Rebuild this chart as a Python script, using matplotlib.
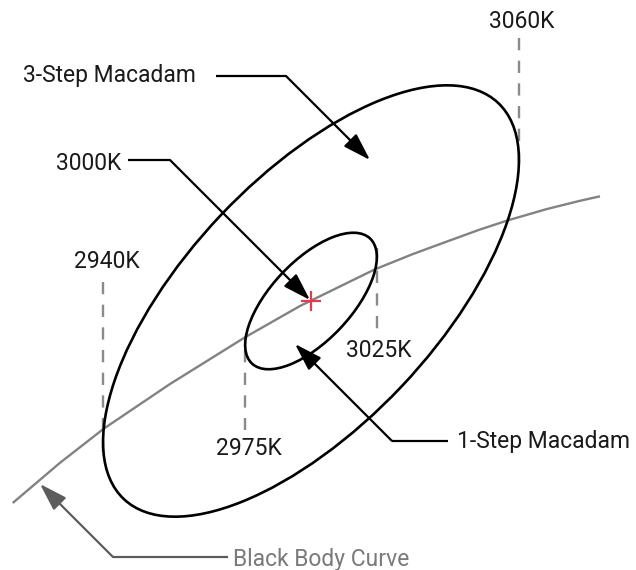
import numpy as np
import matplotlib
matplotlib.use("Agg")
import matplotlib.pyplot as plt
from matplotlib.patches import Ellipse

plt.rcParams['font.family'] = ['Roboto', 'DejaVu Sans']

## canvas is laid out in pixel units (636 x 570, y going down)
W, H = 636, 570

## black body curve
bb_x = [12.7, 60, 104, 170, 245, 300, 375, 413, 447, 480, 508, 547, 580, 600]
bb_y = [503, 462.8, 428.5, 384, 337.3, 306, 269.3, 254, 241.5, 229.5, 220.3, 209, 200.8, 196.3]

## macadam ellipses: shared centre (the 3000K point)
center = (311, 301)
ellipse_steps = [1, 3]
ellipse_width = [172, 545]
ellipse_height = [80, 249]
ellipse_angle = -46.6

## dashed temperature markers
temp_labels = ["2940K", "2975K", "3025K", "3060K"]
temp_x = [103, 245, 377, 519]
temp_y0 = [282, 350, 248, 38]
temp_y1 = [452, 430, 329, 163]
label_x = [107, 248.5, 379, 521.5]
label_y = [268, 455, 357, 28]

## callouts: label, text anchor, line level, line start, arrow tip
callouts = [
    dict(text="3-Step Macadam", tx=23, ty=82, ha="left", level=76, start=216, tip=(370, 160), color="black"),
    dict(text="3000K", tx=121, ty=170, ha="right", level=160, start=128, tip=(310, 300), color="black"),
    dict(text="1-Step Macadam", tx=456.7, ty=448, ha="left", level=440.7, start=448, tip=(295, 344), color="black"),
    dict(text="Black Body Curve", tx=233, ty=566, ha="left", level=557, start=228, tip=(40, 484), color="#5c5c5c"),
]

fig = plt.figure(figsize=(W / 100, H / 100), dpi=100)
ax = fig.add_axes([0, 0, 1, 1])
ax.set_xlim(0, W)
ax.set_ylim(H, 0)
ax.axis("off")

FS = 16.5

## dashed temperature lines + labels
for lab, x, y0, y1, lx, ly in zip(temp_labels, temp_x, temp_y0, temp_y1, label_x, label_y):
    ax.plot([x, x], [y0, y1], color="#8a8a8a", lw=1.7, dashes=(5.2, 4.4), zorder=1)
    ax.text(lx, ly, lab, ha="center", va="baseline", fontsize=FS, color="#1a1a1a")

## black body curve
ax.plot(bb_x, bb_y, color="#828282", lw=1.7, zorder=2, solid_capstyle="butt",
        solid_joinstyle="round")

## ellipses
for w, h in zip(ellipse_width, ellipse_height):
    ax.add_patch(Ellipse(center, w, h, angle=ellipse_angle, fill=False,
                         ec="black", lw=1.9, zorder=3))

## 3000K point
ax.plot([center[0]], [center[1]], marker="+", ms=14, mew=1.6, color="#e63950", zorder=5)

## callouts
for c in callouts:
    tx, ty = c["tip"]
    d = abs(ty - c["level"])
    corner_x = tx - d if c["start"] < tx else tx + d
    ax.plot([c["start"], corner_x], [c["level"], c["level"]], color=c["color"], lw=1.6, zorder=4,
            solid_capstyle="butt")
    ax.annotate("", xy=(tx, ty), xytext=(corner_x, c["level"]),
                arrowprops=dict(arrowstyle="-|>,head_length=0.85,head_width=0.27",
                                color=c["color"], lw=1.6, shrinkA=0, shrinkB=0,
                                mutation_scale=20),
                zorder=4)
    tcol = "#7a7a7a" if c["color"] != "black" else "#1a1a1a"
    ax.text(c["tx"], c["ty"], c["text"], ha=c["ha"], va="baseline", fontsize=FS, color=tcol)

fig.savefig("out.png", dpi=100)
